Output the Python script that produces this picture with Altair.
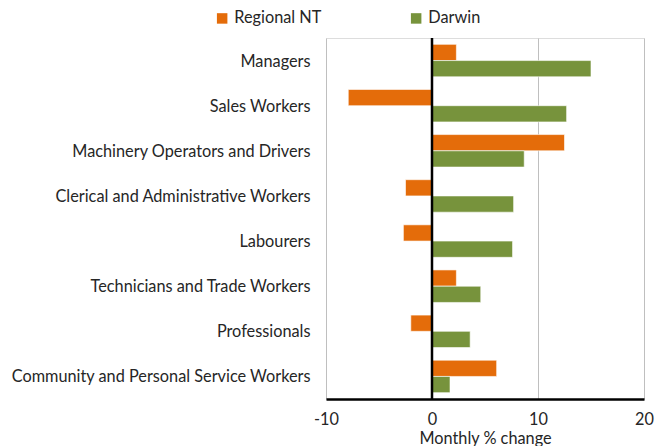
import altair as alt
import pandas as pd

categories = [
    "Managers",
    "Sales Workers",
    "Machinery Operators and Drivers",
    "Clerical and Administrative Workers",
    "Labourers",
    "Technicians and Trade Workers",
    "Professionals",
    "Community and Personal Service Workers",
]
regional_nt = [2.3, -7.9, 12.5, -2.5, -2.7, 2.3, -2.0, 6.1]
darwin = [15.0, 12.7, 8.7, 7.7, 7.6, 4.6, 3.6, 1.7]
series = ["Regional NT", "Darwin"]
colors = ["#E46C0A", "#77933C"]
x_ticks = [-10, 0, 10, 20]

rows = []
for c, r, d in zip(categories, regional_nt, darwin):
    rows.append({"Occupation": c, "Region": series[0], "Change": r})
    rows.append({"Occupation": c, "Region": series[1], "Change": d})
df = pd.DataFrame(rows)

FONT = "Lato"
FS = 16.3

bars = alt.Chart(df).mark_bar(stroke="white", strokeWidth=0.6).encode(
    y=alt.Y("Occupation:N", sort=categories,
            scale=alt.Scale(paddingInner=0.28, paddingOuter=0.14),
            axis=alt.Axis(title=None, ticks=False, domain=False, grid=False,
                          labelFont=FONT, labelFontSize=FS, labelColor="#262626",
                          labelPadding=16, labelLimit=400, labelOffset=1)),
    yOffset=alt.YOffset("Region:N", sort=series),
    x=alt.X("Change:Q",
            scale=alt.Scale(domain=[-10, 20], nice=False),
            axis=alt.Axis(values=x_ticks, title="Monthly % change", ticks=False,
                          labelExpr="replace(datum.label, '\u2212', '-')",
                          labelFlush=False,
                          domainColor="black", domainWidth=2.5,
                          grid=True, gridColor="#BFBFBF", gridWidth=1,
                          labelFont=FONT, labelFontSize=FS, labelColor="#262626",
                          labelPadding=12, titleFont=FONT, titleFontSize=FS,
                          titleFontWeight="normal", titleColor="#262626",
                          titlePadding=3)),
    color=alt.Color("Region:N", sort=series,
                    scale=alt.Scale(domain=series, range=colors),
                    legend=alt.Legend(title=None, orient="none", legendX=-112,
                                      legendY=-28, direction="horizontal",
                                      columns=2, columnPadding=86,
                                      symbolType="square", symbolSize=110,
                                      symbolStrokeWidth=0,
                                      labelFont=FONT, labelFontSize=FS,
                                      labelColor="#262626")),
)

zero = alt.Chart(pd.DataFrame({"x": [0]})).mark_rule(color="black", strokeWidth=2.5).encode(
    x=alt.X("x:Q")
)

chart = alt.layer(bars, zero).properties(
    width=318, height=361,
    autosize=alt.AutoSizeParams(type="none"),
    padding={"left": 326, "top": 38, "right": 20, "bottom": 47},
).configure_view(stroke=None).configure(background="white")

chart.save("out.html", embed_options={"renderer": "svg", "actions": False})
